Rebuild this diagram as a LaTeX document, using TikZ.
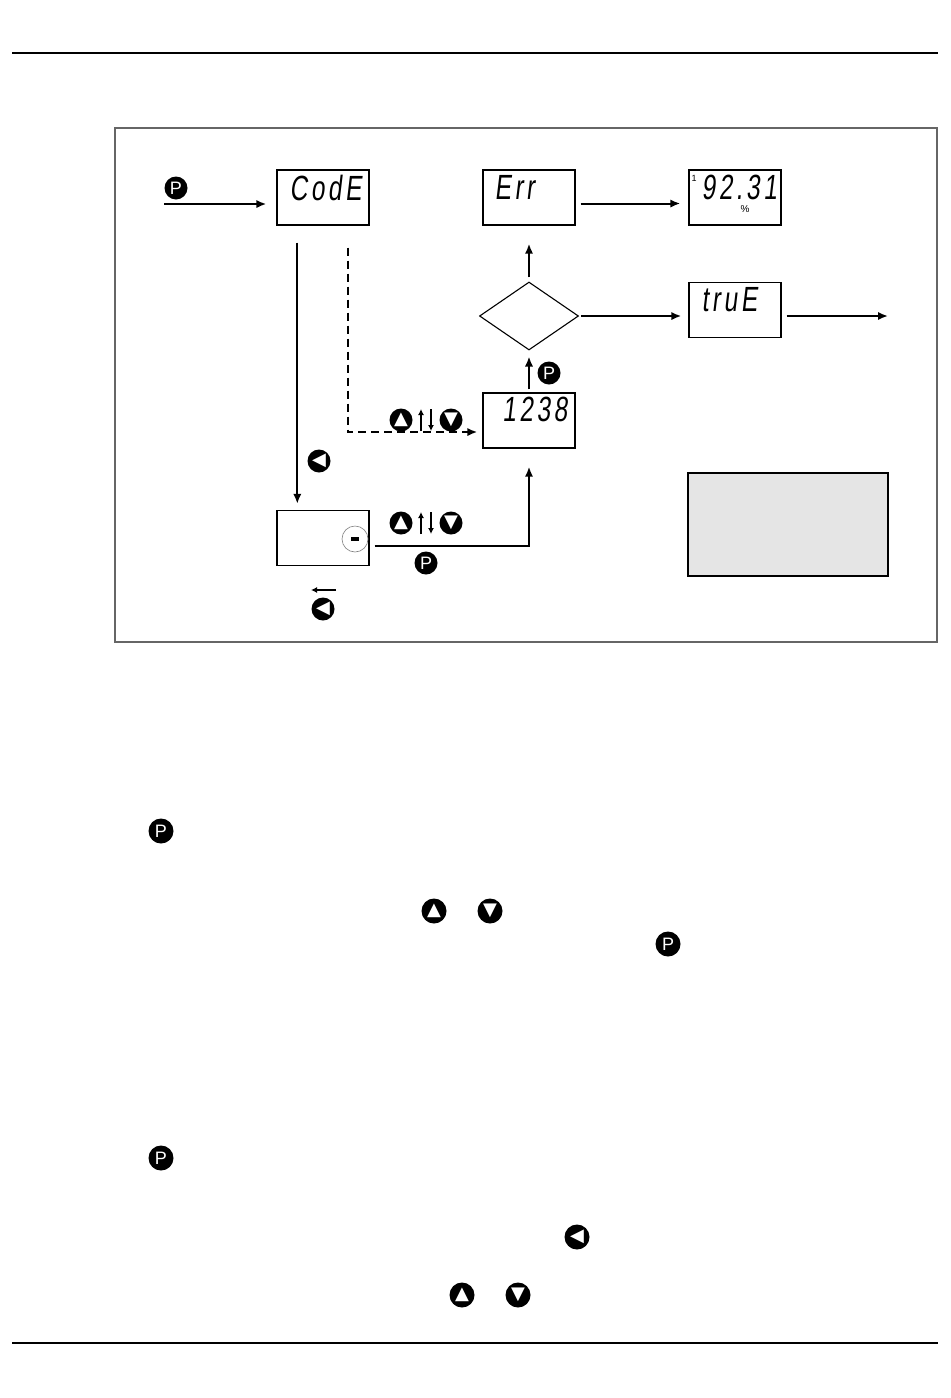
\documentclass[tikz,border=0pt]{standalone}
\usepackage{fontspec}
\usetikzlibrary{shapes.geometric,arrows.meta,positioning}
\newfontfamily\lcdfont[FakeSlant=0.12,FakeStretch=0.7,LetterSpace=10]{Liberation Sans}
\newfontfamily\keyfont{Liberation Sans}
\newfontfamily\symfont{DejaVu Sans}

\newcommand\keyP{{\keyfont\fontsize{9}{9}\selectfont P}}
\newcommand\keyUp{{\symfont\fontsize{9}{9}\selectfont ▲}}
\newcommand\keyDn{{\symfont\fontsize{9}{9}\selectfont ▼}}
\newcommand\keyLt{{\symfont\fontsize{9}{9}\selectfont ◀}}

\tikzset{
  box/.style={draw, line width=0.7pt, minimum width=46pt, minimum height=27.5pt, inner sep=0pt},
  lcd/.style={inner sep=0pt, anchor=base west, font=\lcdfont\fontsize{17.5}{17.5}\selectfont},
  check/.style={diamond, draw, line width=0.55pt, inner sep=0pt, minimum width=49.5pt, minimum height=34pt},
  note/.style={draw, fill=black!10, line width=0.7pt, minimum width=100pt, minimum height=51.5pt},
  btn/.style={circle, fill=black, text=white, inner sep=0pt, minimum size=11.5pt},
  txtbtn/.style={btn, minimum size=12.5pt},
  arr/.style={line width=1pt, -{Latex[length=5pt,width=4.2pt]}},
  dasharr/.style={arr, dash pattern=on 4pt off 2.5pt},
  tinyarr/.style={line width=0.8pt, -{Latex[length=3pt,width=3pt]}},
  frame/.style={draw=black!60, line width=0.8pt},
  rule/.style={line width=1pt},
  updown/.pic={
    \node[btn] (-up) at (-25,0) {\keyUp};
    \node[btn] (-dn) at (25,0) {\keyDn};
    \draw[tinyarr] (-5,11) -- (-5,-11);
    \draw[tinyarr] (5,-11) -- (5,11);
  }
}

\begin{document}
\begin{tikzpicture}[x=0.5pt, y=-0.5pt]
\useasboundingbox (0,0) rectangle (950,1398);

\draw[rule] (12,53) -- (938,53);
\draw[rule] (12,1343) -- (938,1343);
\draw[frame] (115,128) rectangle (937,642);

\node[box] (code) at (323,197.5) {};
\node[box] (err) at (529,197.5) {};
\node[box] (pct) at (735,197.5) {};
\node[box] (true) at (735,310) {};
\node[box] (num) at (529,420.5) {};
\node[box] (minus) at (323,538) {};
\node[check] (chk) at (529,316) {};
\node[note] (memo) at (788,524.5) {};

\node[lcd] (codeTxt) at ([xshift=6.5pt,yshift=-15.5pt]code.north west) {CodE};
\node[lcd] (errTxt) at ([xshift=6pt,yshift=-15pt]err.north west) {Err};
\node[lcd] (pctTxt) at ([xshift=6.5pt,yshift=-15pt]pct.north west) {92.31};
\node[inner sep=0pt, font=\keyfont\fontsize{4.5}{4.5}\selectfont] (pctOne) at (694,178) {1};
\node[inner sep=0pt, font=\keyfont\fontsize{5}{5}\selectfont] (pctSign) at (745,209) {\%};
\node[lcd] (trueTxt) at ([xshift=6.5pt,yshift=-15pt]true.north west) {truE};
\node[lcd, anchor=base east] (numTxt) at ([xshift=-4pt,yshift=-14.5pt]num.north east) {1238};
\node[draw=gray, line width=0.3pt, circle, minimum size=13pt, inner sep=0pt] (minusKey) at (355,539) {\rule{4pt}{1.6pt}};

\coordinate (start) at (164,204);
\coordinate (exit) at (888,316);

\draw[arr, shorten >=5pt] (start) -- (start -| code.west);
\draw[arr, shorten <=8.5pt, shorten >=3pt] ([xshift=10.5pt]code.south west) -- ([xshift=10.5pt]minus.north west);
\draw[dasharr, shorten <=11pt, shorten >=2.5pt] ([xshift=-11pt]code.south east) |- ([yshift=-5.75pt]num.west);
\draw[arr, shorten <=2.5pt, shorten >=9pt] ([yshift=-3.75pt]minus.east) -| (num.south);
\draw[arr, shorten <=1.5pt, shorten >=3pt] (num.north) -- (chk.south);
\draw[arr, shorten <=2pt, shorten >=9pt] (chk.north) -- (err.south);
\draw[arr, shorten <=2.5pt, shorten >=4pt] ([yshift=-3pt]err.east) -- ([yshift=-3pt]pct.west);
\draw[arr, shorten <=1pt, shorten >=3.5pt] (chk.east) -- (chk.east -| true.west);
\draw[arr, shorten <=2.5pt] (chk.east -| true.east) -- (exit);

\node[btn] (pIn) at (176,188) {\keyP};
\node[btn] (leftKeyA) at (319,461) {\keyLt};
\pic (keysA) at (426,420) {updown};
\pic (keysB) at (426,523) {updown};
\node[btn] (pMinus) at (426,563) {\keyP};
\node[btn] (leftKeyB) at (323,609) {\keyLt};
\draw[tinyarr] ([xshift=6.5pt,yshift=9.5pt]leftKeyB.center) -- ++(-12.5pt,0);
\node[btn] (pNum) at (549,373) {\keyP};

\node[txtbtn] (pText1) at (161,831) {\keyP};
\node[txtbtn] (upText1) at (434,911) {\keyUp};
\node[txtbtn] (dnText1) at (490,911) {\keyDn};
\node[txtbtn] (pText2) at (668,944) {\keyP};
\node[txtbtn] (pText3) at (161,1158) {\keyP};
\node[txtbtn] (leftText) at (577,1237) {\keyLt};
\node[txtbtn] (upText2) at (462,1295) {\keyUp};
\node[txtbtn] (dnText2) at (518,1295) {\keyDn};

\end{tikzpicture}
\end{document}
